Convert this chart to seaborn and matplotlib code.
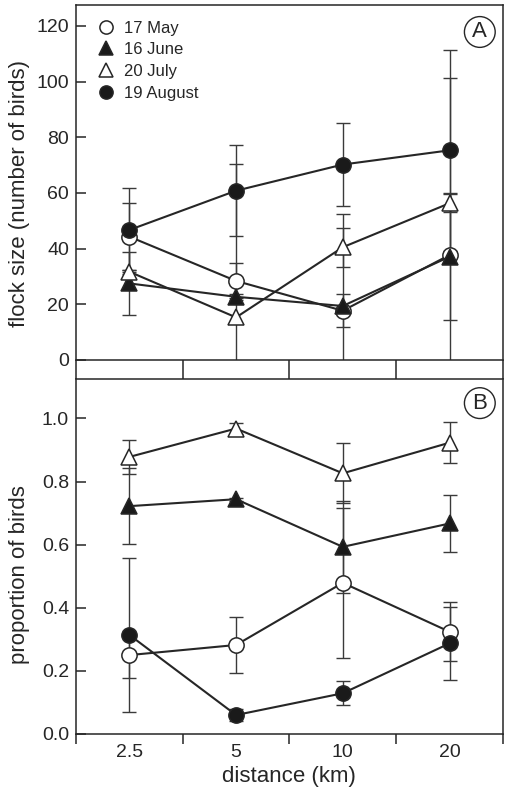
import numpy as np
import pandas as pd
import seaborn as sns
import matplotlib.pyplot as plt
from matplotlib.lines import Line2D

sns.set_style("ticks")
plt.rcParams['font.family'] = ['Liberation Sans', 'DejaVu Sans']

# data
distances = ['2.5', '5', '10', '20']
dates = ['17 May', '16 June', '20 July', '19 August']

flock_may = [44.3, 28.4, 17.7, 37.7]
flock_june = [27.5, 22.7, 19.4, 37.1]
flock_july = [31.7, 15.3, 40.5, 56.3]
flock_aug = [46.7, 60.8, 70.2, 75.3]
flock_err_may = [12.0, 6.3, 6.0, 63.5]
flock_err_june = [11.2, 1.0, 33.0, 22.9]
flock_err_july = [0.7, 55.0, 7.0, 3.3]
flock_err_aug = [15.2, 16.4, 14.9, 36.2]

prop_may = [0.250, 0.282, 0.479, 0.324]
prop_june = [0.722, 0.744, 0.593, 0.667]
prop_july = [0.878, 0.968, 0.826, 0.923]
prop_aug = [0.314, 0.060, 0.129, 0.287]
prop_err_may = [0.074, 0.090, 0.237, 0.094]
prop_err_june = [0.120, 0.005, 0.145, 0.090]
prop_err_july = [0.053, 0.018, 0.095, 0.065]
prop_err_aug = [0.243, 0.020, 0.038, 0.115]

# marker style per date: (marker, facecolor)
styles = {'17 May': ('o', 'white'), '16 June': ('^', '#1a1a1a'),
          '20 July': ('^', 'white'), '19 August': ('o', '#1a1a1a')}

ink = '#262626'
fig = plt.figure(figsize=(5.1, 7.94), dpi=100)
axA = fig.add_axes([0.149, 0.5466, 0.837, 0.4471])
axB = fig.add_axes([0.149, 0.0756, 0.837, 0.4471])

xi = np.arange(len(distances))


def draw(ax, vals, errs):
    for d, v, e in zip(dates, vals, errs):
        ax.errorbar(xi, v, yerr=e, fmt='none', ecolor='#3a3a3a',
                    elinewidth=1.0, capsize=5, capthick=1.0, zorder=1)
    for d, v in zip(dates, vals):
        m, fc = styles[d]
        sns.lineplot(x=xi, y=v, ax=ax, color=ink, linewidth=1.5,
                     marker=m, markersize=11, markerfacecolor=fc,
                     markeredgecolor=ink, markeredgewidth=1.1, zorder=3)


draw(axA, [flock_may, flock_june, flock_july, flock_aug],
     [flock_err_may, flock_err_june, flock_err_july, flock_err_aug])
draw(axB, [prop_may, prop_june, prop_july, prop_aug],
     [prop_err_may, prop_err_june, prop_err_july, prop_err_aug])

axA.set_ylim(0, 127.5)
axA.set_yticks(np.arange(0, 121, 20))
axB.set_ylim(0, 1.125)
axB.set_yticks(np.arange(0, 1.01, 0.2))
axB.set_yticklabels([f'{t:.1f}' for t in np.arange(0, 1.01, 0.2)])

for ax in (axA, axB):
    ax.set_xlim(-0.5, len(distances) - 0.5)
    ax.set_xticks(np.arange(-0.5, len(distances)))
    ax.set_xticklabels([])
    ax.set_xticks(xi, minor=True)
    ax.tick_params(axis='y', direction='in', length=7, width=1.1,
                   labelsize=14, colors=ink, pad=5)
    ax.tick_params(axis='x', which='major', direction='out', length=7,
                   width=1.1, colors=ink)
    ax.tick_params(axis='x', which='minor', length=0, labelsize=14,
                   colors=ink, pad=7)
    for s in ax.spines.values():
        s.set_linewidth(1.1)
        s.set_color(ink)
    ax.set_xlabel('')

axA.tick_params(axis='x', which='major', length=13.5)
axB.set_xticklabels(distances, minor=True)
axB.set_xlabel('distance (km)', fontsize=16, color=ink, labelpad=4)
axA.set_ylabel('flock size (number of birds)', fontsize=16, color=ink)
axB.set_ylabel('proportion of birds', fontsize=16, color=ink)
axA.yaxis.set_label_coords(-0.108, 0.47)
axB.yaxis.set_label_coords(-0.108, 0.448)

# panel letters
for ax, letter, y in ((axA, 'A', 0.924), (axB, 'B', 0.932)):
    ax.text(0.946, y, letter, transform=ax.transAxes, fontsize=16,
            color=ink, ha='center', va='center',
            bbox=dict(boxstyle='circle,pad=0.22', fc='white', ec=ink, lw=1.0))

handles = [Line2D([], [], linestyle='none', marker=styles[d][0],
                  markersize=9.5, markerfacecolor=styles[d][1],
                  markeredgecolor=ink, markeredgewidth=1.1) for d in dates]
axA.legend(handles, dates, loc='upper left', bbox_to_anchor=(0.035, 0.975),
           frameon=False, fontsize=12, handlelength=1.0, handletextpad=0.6,
           labelspacing=0.4, borderaxespad=0, labelcolor=ink)

fig.savefig('out.png', dpi=100, facecolor='white')
